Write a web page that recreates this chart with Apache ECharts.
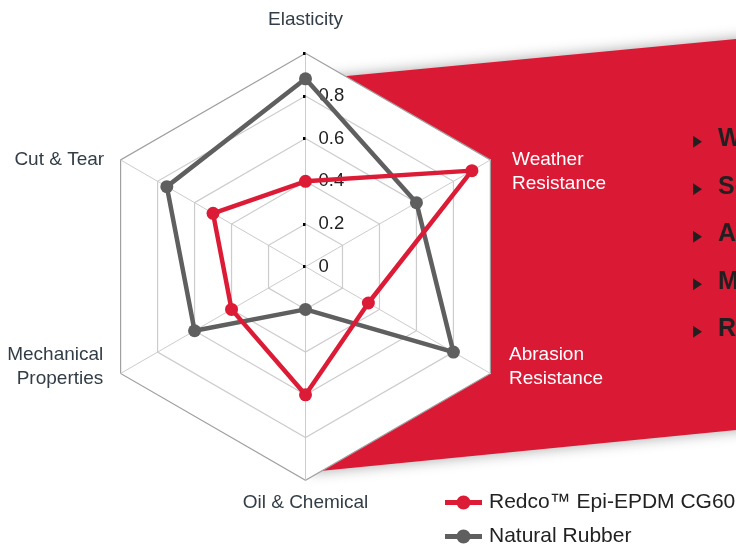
<!DOCTYPE html>
<html><head><meta charset="utf-8">
<script src="https://cdn.jsdelivr.net/npm/echarts@6/dist/echarts.min.js"></script>
<style>html,body{margin:0;padding:0;background:#fff}#c{width:736px;height:546px}</style>
</head><body><div id="c"></div>
<script>
const indicatorNames = ['Elasticity', 'Cut & Tear', 'Mechanical\nProperties', 'Oil & Chemical', 'Abrasion\nResistance', 'Weather\nResistance'];
const seriesNames = ['Redco™ Epi-EPDM CG60', 'Natural Rubber'];
const redcoValues = [0.4, 0.5, 0.4, 0.6, 0.34, 0.9];
const rubberValues = [0.88, 0.75, 0.6, 0.2, 0.8, 0.6];
const tickLabels = ['0', '0.2', '0.4', '0.6', '0.8'];
const bulletItems = ['Weather resistance', 'Service temperature', 'Abrasion resistance', 'Mechanical strength', 'Resistance to oils'];

const RED = '#da1a35', GREY = '#5f5f5f', FONT = 'Liberation Sans, Arial, sans-serif';
// per-indicator name placement (gap from vertex, spacer above / below the text block)
const nameLayout = [
  { nameGap: 21, top: 0, bottom: 0 },
  { nameGap: 19, top: 19, bottom: 0 },
  { nameGap: 20, top: 0, bottom: 33 },
  { nameGap: 11, top: 0, bottom: 0 },
  { nameGap: 21.5, top: 0, bottom: 34, color: '#ffffff' },
  { nameGap: 25, top: 49, bottom: 0, color: '#ffffff' }
];
const rich = { n: { fontSize: 19, lineHeight: 24, fontFamily: FONT } };
nameLayout.forEach(l => {
  [l.top, l.bottom].forEach(h => { if (h) rich['s' + h] = { fontSize: 1, lineHeight: h }; });
});
function fmtName(name) {
  const i = indicatorNames.indexOf(name);
  const l = nameLayout[i] || { top: 0, bottom: 0 };
  let parts = name.split('\n').map(s => '{n|' + s + '}');
  if (l.top) parts.unshift('{s' + l.top + '| }');
  if (l.bottom) parts.push('{s' + l.bottom + '| }');
  return parts.join('\n');
}
const indicators = indicatorNames.map((n, i) => {
  const o = { name: n, max: 1, min: 0, nameGap: nameLayout[i].nameGap };
  if (nameLayout[i].color) o.color = nameLayout[i].color;
  return o;
});
indicators[0].axisLabel = { show: true, color: '#222', fontSize: 18.5, fontFamily: FONT, margin: -13, align: 'left',
  formatter: (v, i) => (tickLabels[i] !== undefined ? tickLabels[i] : '') };
indicators[0].axisTick = { show: true, length: 2.5, lineStyle: { color: '#000', width: 3 } };

const graphics = [{
  type: 'polygon', z: -100,
  shape: { points: [[310, 79.5], [760, 36.7], [760, 427.6], [310, 472]] },
  style: { fill: RED, shadowBlur: 14, shadowColor: 'rgba(0,0,0,0.35)' }
}];
bulletItems.forEach((t, i) => {
  const y = 141.7 + i * 47.5;
  graphics.push({ type: 'polygon', shape: { points: [[693, y - 6], [702, y], [693, y + 6]] }, style: { fill: '#231f20' } });
  graphics.push({ type: 'text', left: 718, top: y - 15, style: { text: t, fill: '#231f20', font: 'bold 25px ' + FONT } });
});

const chart = echarts.init(document.getElementById('c'));
chart.setOption({
  animation: false,
  backgroundColor: '#fff',
  graphic: graphics,
  legend: {
    data: seriesNames, orient: 'vertical', left: 440, top: 487, height: 80, itemGap: 13,
    itemWidth: 37, itemHeight: 14,
    icon: 'path://M0,4.5H12V9.5H0Z M24,4.5H37V9.5H24Z M11.5,7A7,7 0 1 1 25.5,7A7,7 0 1 1 11.5,7Z',
    textStyle: { color: '#222', fontSize: 21, lineHeight: 20, fontFamily: FONT, padding: [0, 0, 0, 2] },
    itemStyle: { borderWidth: 0 }, lineStyle: { width: 0 }
  },
  radar: {
    center: [305.5, 266.7], radius: 213.5, startAngle: 90, shape: 'polygon', splitNumber: 5,
    indicator: indicators,
    axisName: { color: '#323d47', fontSize: 19, lineHeight: 24, fontFamily: FONT, formatter: fmtName, rich: rich },
    axisLine: { lineStyle: { color: '#cccccc', width: 1 } },
    axisTick: { show: false },
    axisLabel: { show: false },
    splitLine: { lineStyle: { color: ['#cccccc', '#cccccc', '#cccccc', '#cccccc', '#cccccc', '#a0a0a0'], width: 1.2 } },
    splitArea: { show: true, areaStyle: { color: ['#ffffff'] } }
  },
  series: [{
    type: 'radar', symbol: 'circle', symbolSize: 13,
    data: [
      { name: seriesNames[1], value: rubberValues, lineStyle: { color: GREY, width: 4.5 }, itemStyle: { color: GREY } },
      { name: seriesNames[0], value: redcoValues, lineStyle: { color: '#dc1c36', width: 4.5 }, itemStyle: { color: '#dc1c36' } }
    ]
  }]
});
</script></body></html>
